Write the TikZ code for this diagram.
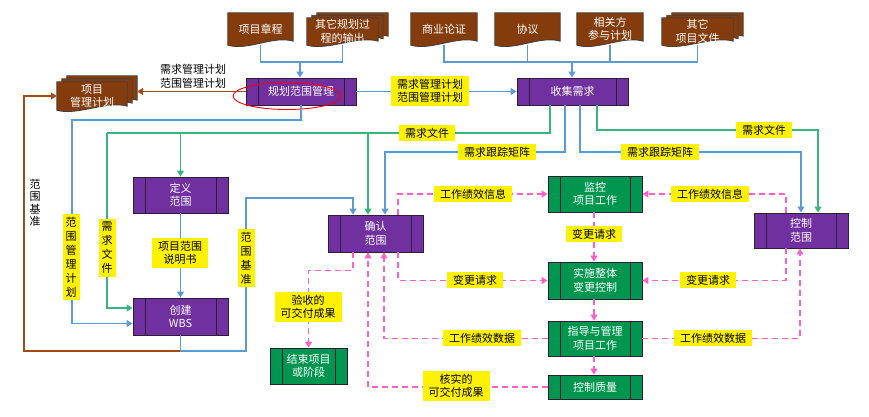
\documentclass[tikz,border=0pt]{standalone}
\usepackage{fontspec}
\setmainfont{Noto Sans CJK SC}
\usetikzlibrary{arrows.meta,backgrounds,calc}
\definecolor{pur}{RGB}{112,48,160}
\definecolor{grn}{RGB}{0,150,80}
\definecolor{brn}{RGB}{132,60,12}
\definecolor{brline}{RGB}{160,75,25}
\definecolor{boxline}{RGB}{45,30,55}
\definecolor{blueline}{RGB}{91,155,213}
\definecolor{greenline}{RGB}{56,180,125}
\definecolor{pinkline}{RGB}{255,95,200}
\newcommand{\docshape}[3]{%
  \filldraw[fill=brn,draw=black!75,line width=0.8pt]
    ([xshift=#2pt,yshift=#3pt]#1.north west) --
    ([xshift=#2pt,yshift=#3pt]#1.north east) --
    ([xshift=#2pt,yshift=#3pt,yshift=4pt]#1.south east)
    .. controls +(-20,-6) and +(20,6) ..
    ([xshift=#2pt,yshift=#3pt]#1.south west) -- cycle;}
\begin{document}
\begin{tikzpicture}[x=1pt,y=-1pt,
  cjk/.style={font=\fontsize{11}{13.5}\selectfont},
  box/.style={rectangle,draw=boxline,line width=0.9pt,text=white,cjk,align=center,inner sep=0pt,
    path picture={\draw[boxline,line width=0.8pt]
      ([xshift=12pt]path picture bounding box.north west) -- ([xshift=12pt]path picture bounding box.south west)
      ([xshift=-12pt]path picture bounding box.north east) -- ([xshift=-12pt]path picture bounding box.south east);}},
  purbox/.style={box,fill=pur},
  grnbox/.style={box,fill=grn},
  doc/.style={rectangle,inner sep=0pt,text=white,cjk,align=center},
  lab/.style={fill=yellow,text=black,cjk,align=center,inner xsep=6pt,inner ysep=3pt},
  vlab/.style={fill=yellow,text=black,align=center,inner xsep=3pt,inner ysep=3pt,font=\fontsize{11}{14}\selectfont},
  plain/.style={text=black,cjk,align=center,inner sep=1pt},
  tip/.style={-{Triangle[length=6pt,width=7pt]}},
  bl/.style={draw=blueline,line width=1.2pt},
  ba/.style={bl,tip},
  gl/.style={draw=greenline,line width=1.2pt},
  ga/.style={gl,tip},
  brl/.style={draw=brline,line width=1.4pt},
  bra/.style={brl,tip},
  pa/.style={draw=pinkline,line width=1.6pt,dash pattern=on 6pt off 4pt,tip}]
\useasboundingbox (0,0) rectangle (869,416);

% documents
\node[doc,minimum width=65,minimum height=32] (charter) at (260.5,29) {项目章程};
\node[doc,minimum width=71,minimum height=27] (otherplan) at (342.5,31.5) {其它规划过\\程的输出};
\node[doc,minimum width=66,minimum height=32] (bizcase) at (444,29) {商业论证};
\node[doc,minimum width=65,minimum height=32] (agree) at (527.5,29) {协议};
\node[doc,minimum width=66,minimum height=32] (stake) at (610,29) {相关方\\参与计划};
\node[doc,minimum width=71,minimum height=27] (otherdocs) at (697.5,31.5) {其它\\项目文件};
\node[doc,minimum width=70,minimum height=28] (pm) at (92,96) {项目\\管理计划};
\begin{pgfonlayer}{background}
  \docshape{charter}{0}{0}
  \docshape{otherplan}{10}{5}\docshape{otherplan}{5}{2.5}\docshape{otherplan}{0}{0}
  \docshape{bizcase}{0}{0}
  \docshape{agree}{0}{0}
  \docshape{stake}{0}{0}
  \docshape{otherdocs}{10}{5}\docshape{otherdocs}{5}{2.5}\docshape{otherdocs}{0}{0}
  \docshape{pm}{10}{6}\docshape{pm}{5}{3}\docshape{pm}{0}{0}
\end{pgfonlayer}

% process boxes
\node[purbox,minimum width=110,minimum height=27] (planscope) at (301,91.5) {规划范围管理};
\node[purbox,minimum width=111,minimum height=27] (collect) at (572.5,91.5) {收集需求};
\node[purbox,minimum width=95,minimum height=36] (define) at (180.5,195) {定义\\范围};
\node[purbox,minimum width=95,minimum height=37] (wbs) at (180.5,316.5) {创建\\WBS};
\node[purbox,minimum width=95,minimum height=37] (validate) at (375.5,233.5) {确认\\范围};
\node[purbox,minimum width=94,minimum height=35] (control) at (801,230.5) {控制\\范围};
\node[grnbox,minimum width=77,minimum height=36] (close) at (308.5,366) {结束项目\\或阶段};
\node[grnbox,minimum width=94,minimum height=36] (monitor) at (595,194) {监控\\项目工作};
\node[grnbox,minimum width=94,minimum height=37] (change) at (595,280.5) {实施整体\\变更控制};
\node[grnbox,minimum width=94,minimum height=35] (direct) at (595,338.5) {指导与管理\\项目工作};
\node[grnbox,minimum width=94,minimum height=24] (quality) at (595,387) {控制质量};

% red hand-drawn ellipse
\draw[red,line width=0.9pt] (287,96) ellipse [x radius=54,y radius=13.5];

% top inputs
\coordinate (jA) at (300,62);
\coordinate (jB) at (572,62);
\draw[bl] (charter.south) |- (jA);
\draw[bl] (otherplan.south) |- (jA);
\draw[ba] (jA) -- (jA |- planscope.north);
\draw[bl] (bizcase.south) |- (jB);
\draw[bl] (agree.south) |- (jB);
\draw[bl] (stake.south) |- (jB);
\draw[bl] (otherdocs.south) |- (jB);
\draw[ba] (jB) -- (jB |- collect.north);

\draw[ba] (planscope.east) -- (collect.west);
\draw[bra] (planscope.west) -- ([xshift=10pt]pm.east |- planscope.west);

% scope management plan to WBS
\coordinate (b1) at (72,120);
\draw[ba] (planscope.south) |- (b1) |- ([yshift=-7pt]wbs.west);

% requirements documentation (green)
\coordinate (g1) at (107,133);
\draw[gl] ([xshift=-22.5pt]collect.south) |- (g1);
\draw[ga] (g1) |- ([yshift=8.5pt]wbs.west);
\draw[ga] (define.north |- g1) -- (define.north);
\draw[ga] ([xshift=-7.5pt]validate.north |- g1) -- ([xshift=-7.5pt]validate.north);
\coordinate (g2) at (818,130);
\draw[ga] ([xshift=24.5pt]collect.south) |- (g2) -- (g2 |- control.north);

% traceability matrix (blue)
\coordinate (t1) at (385,152);
\draw[ba] ([xshift=-7.5pt]collect.south) |- (t1) -- (t1 |- validate.north);
\draw[ba] ([xshift=7.5pt]collect.south) |- (control.north |- t1) -- (control.north);

% define -> wbs
\draw[ba] (define.south) -- (wbs.north);

% scope baseline
\coordinate (br1) at (24,351);
\draw[bra] (wbs.south) |- (br1) |- (pm.west);
\coordinate (r1) at (246,351);
\coordinate (r2) at (246,198);
\draw[ba] (wbs.south) |- (r1) -- (r2) -| ([xshift=-22.5pt]validate.north);

% pink dashed
\draw[pa] ([xshift=22.5pt]validate.north) |- (monitor.west);
\draw[pa] ([xshift=22.5pt]validate.south) |- (change.west);
\draw[pa] ([xshift=-15pt]control.north) |- (monitor.east);
\draw[pa] ([xshift=-15pt]control.south) |- (change.east);
\draw[pa] (direct.east) -| ([xshift=-1pt]control.south);
\draw[pa] (direct.west) -| ([xshift=8.5pt]validate.south);
\draw[pa] (quality.west) -| ([xshift=-7.5pt]validate.south);
\draw[pa] ([xshift=-22.5pt]validate.south) -- ++(0,18) -| (close.north);
\draw[pa] ([xshift=-1pt]monitor.south) -- ([xshift=-1pt]change.north);
\draw[pa] ([xshift=-1pt]change.south) -- ([xshift=-1pt]direct.north);
\draw[pa] ([xshift=-1pt]direct.south) -- ([xshift=-1pt]quality.north);

% labels
\node[plain] (lp1) at (193,76.5) {需求管理计划\\范围管理计划};
\node[plain,font=\fontsize{11}{12.5}\selectfont] (lp2) at (35,203) {范\\围\\基\\准};
\node[lab] (l1) at (430,91) {需求管理计划\\范围管理计划};
\node[lab] (l2) at (427,133) {需求文件};
\node[lab] (l3) at (764,130) {需求文件};
\node[lab] (l4) at (497,152) {需求跟踪矩阵};
\node[lab] (l5) at (660,152) {需求跟踪矩阵};
\node[lab] (l6) at (180,253) {项目范围\\说明书};
\node[vlab] (l7) at (71,257) {范\\围\\管\\理\\计\\划};
\node[vlab] (l8) at (107,248) {需\\求\\文\\件};
\node[vlab] (l9) at (246,258) {范\\围\\基\\准};
\node[lab] (l10) at (473,194) {工作绩效信息};
\node[lab] (l11) at (710,194) {工作绩效信息};
\node[lab] (l12) at (594,234) {变更请求};
\node[lab] (l13) at (475,280) {变更请求};
\node[lab] (l14) at (708,280) {变更请求};
\node[lab] (l15) at (482,338) {工作绩效数据};
\node[lab] (l16) at (713,338) {工作绩效数据};
\node[lab] (l17) at (456,386) {核实的\\可交付成果};
\node[lab] (l18) at (308,307) {验收的\\可交付成果};
\end{tikzpicture}
\end{document}
